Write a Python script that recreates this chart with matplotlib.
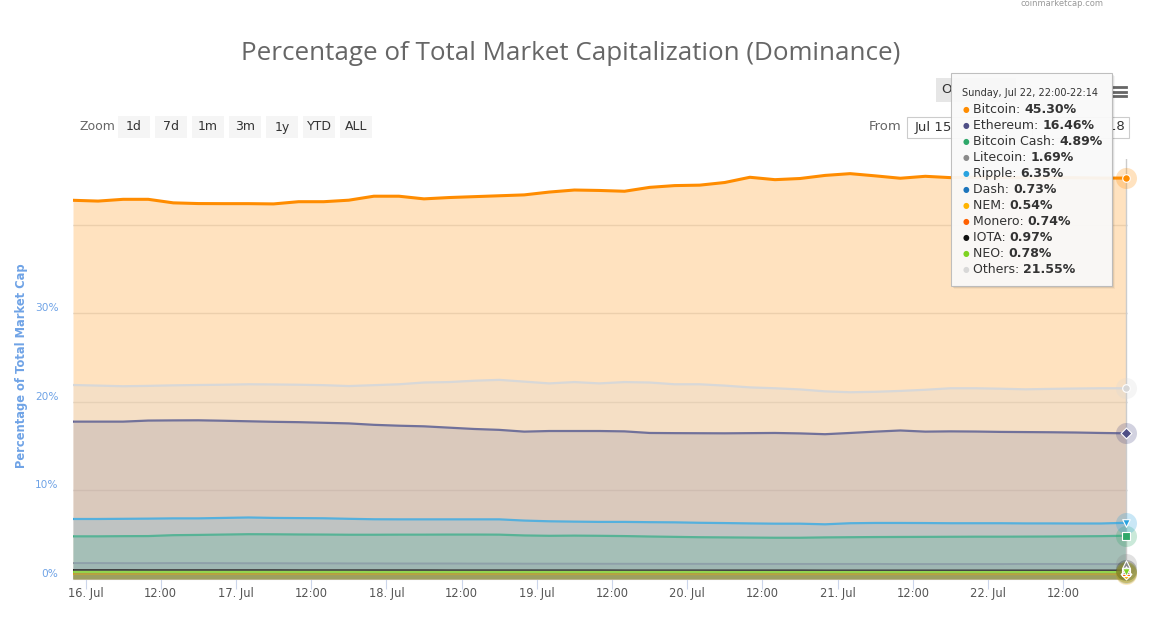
import matplotlib
matplotlib.use("Agg")
import matplotlib.pyplot as plt
from matplotlib.patches import Rectangle
from matplotlib.lines import Line2D
from matplotlib.transforms import ScaledTranslation, Bbox
import pandas as pd

# ---------------------------------------------------------------
# data: dominance (%) sampled every 4 hours, Jul 15 22:00 -> Jul 22 22:00
# ---------------------------------------------------------------
times = pd.date_range("2018-07-15 22:00", "2018-07-22 22:00", freq="4h")

bitcoin = [42.79, 42.70, 42.90, 42.90, 42.50, 42.42, 42.41, 42.41, 42.38, 42.63,
           42.63, 42.80, 43.25, 43.25, 42.95, 43.10, 43.20, 43.30, 43.40, 43.72,
           43.95, 43.90, 43.81, 44.25, 44.45, 44.50, 44.80, 45.39, 45.12, 45.25,
           45.60, 45.80, 45.55, 45.28, 45.50, 45.35, 45.40, 45.38, 45.32, 45.36,
           45.34, 45.30, 45.30]
ethereum = [17.78, 17.78, 17.78, 17.90, 17.92, 17.93, 17.88, 17.82, 17.76, 17.72,
            17.65, 17.58, 17.42, 17.32, 17.25, 17.10, 16.95, 16.85, 16.65, 16.72,
            16.72, 16.72, 16.68, 16.50, 16.48, 16.47, 16.46, 16.48, 16.50, 16.45,
            16.36, 16.50, 16.65, 16.78, 16.65, 16.68, 16.66, 16.62, 16.60, 16.58,
            16.55, 16.50, 16.46]
bitcoin_cash = [4.82, 4.82, 4.84, 4.85, 4.95, 4.98, 5.02, 5.06, 5.05, 5.03,
                5.02, 5.00, 5.00, 5.01, 5.01, 5.02, 5.02, 5.01, 4.92, 4.88,
                4.90, 4.88, 4.85, 4.80, 4.76, 4.72, 4.70, 4.68, 4.66, 4.66,
                4.70, 4.72, 4.74, 4.75, 4.76, 4.77, 4.78, 4.78, 4.79, 4.80,
                4.82, 4.84, 4.89]
litecoin = [1.80, 1.80, 1.79, 1.79, 1.80, 1.80, 1.79, 1.78, 1.78, 1.77,
            1.77, 1.76, 1.76, 1.75, 1.75, 1.75, 1.74, 1.74, 1.73, 1.73,
            1.73, 1.72, 1.72, 1.72, 1.71, 1.71, 1.71, 1.70, 1.70, 1.70,
            1.70, 1.70, 1.70, 1.69, 1.69, 1.69, 1.69, 1.69, 1.70, 1.70,
            1.69, 1.69, 1.69]
ripple = [6.78, 6.78, 6.80, 6.82, 6.85, 6.85, 6.90, 6.95, 6.90, 6.88,
          6.86, 6.80, 6.75, 6.74, 6.74, 6.74, 6.74, 6.74, 6.60, 6.52,
          6.48, 6.45, 6.45, 6.42, 6.40, 6.35, 6.32, 6.28, 6.25, 6.25,
          6.18, 6.30, 6.33, 6.33, 6.32, 6.30, 6.30, 6.30, 6.28, 6.28,
          6.27, 6.27, 6.35]
dash = [0.75, 0.75, 0.75, 0.75, 0.75, 0.75, 0.75, 0.75, 0.74, 0.74,
        0.74, 0.74, 0.74, 0.74, 0.74, 0.74, 0.74, 0.74, 0.74, 0.74,
        0.74, 0.74, 0.74, 0.73, 0.73, 0.73, 0.73, 0.73, 0.73, 0.73,
        0.73, 0.73, 0.73, 0.73, 0.73, 0.73, 0.73, 0.73, 0.73, 0.73,
        0.73, 0.73, 0.73]
nem = [0.56, 0.56, 0.56, 0.56, 0.56, 0.56, 0.56, 0.56, 0.56, 0.55,
       0.55, 0.55, 0.55, 0.55, 0.55, 0.55, 0.55, 0.55, 0.55, 0.55,
       0.55, 0.55, 0.55, 0.55, 0.55, 0.54, 0.54, 0.54, 0.54, 0.54,
       0.54, 0.54, 0.54, 0.54, 0.54, 0.54, 0.54, 0.54, 0.54, 0.54,
       0.54, 0.54, 0.54]
monero = [0.76, 0.76, 0.76, 0.76, 0.76, 0.76, 0.76, 0.76, 0.76, 0.76,
          0.76, 0.75, 0.75, 0.75, 0.75, 0.75, 0.75, 0.75, 0.75, 0.75,
          0.75, 0.75, 0.75, 0.75, 0.75, 0.74, 0.74, 0.74, 0.74, 0.74,
          0.74, 0.74, 0.74, 0.74, 0.74, 0.74, 0.74, 0.74, 0.74, 0.74,
          0.74, 0.74, 0.74]
iota = [1.02, 1.02, 1.02, 1.01, 1.01, 1.01, 1.01, 1.01, 1.01, 1.00,
        1.00, 1.00, 1.00, 1.00, 1.00, 0.99, 0.99, 0.99, 0.99, 0.99,
        0.99, 0.99, 0.98, 0.98, 0.98, 0.98, 0.98, 0.98, 0.98, 0.98,
        0.97, 0.97, 0.97, 0.97, 0.97, 0.97, 0.97, 0.97, 0.97, 0.97,
        0.97, 0.97, 0.97]
neo = [0.80, 0.80, 0.80, 0.80, 0.80, 0.80, 0.80, 0.80, 0.80, 0.80,
       0.80, 0.80, 0.79, 0.79, 0.79, 0.79, 0.79, 0.79, 0.79, 0.79,
       0.79, 0.79, 0.79, 0.79, 0.79, 0.79, 0.78, 0.78, 0.78, 0.78,
       0.78, 0.78, 0.78, 0.78, 0.78, 0.78, 0.78, 0.78, 0.78, 0.78,
       0.78, 0.78, 0.78]
others = [21.92, 21.85, 21.78, 21.82, 21.88, 21.92, 21.95, 22.00, 21.98, 21.95,
          21.90, 21.80, 21.90, 22.00, 22.20, 22.25, 22.40, 22.50, 22.30, 22.10,
          22.25, 22.10, 22.25, 22.20, 22.00, 22.00, 21.85, 21.65, 21.55, 21.42,
          21.20, 21.10, 21.15, 21.25, 21.38, 21.55, 21.55, 21.50, 21.43, 21.48,
          21.52, 21.55, 21.55]

names = ["Bitcoin", "Ethereum", "Bitcoin Cash", "Litecoin", "Ripple", "Dash",
         "NEM", "Monero", "IOTA", "NEO", "Others"]
values = [bitcoin, ethereum, bitcoin_cash, litecoin, ripple, dash,
          nem, monero, iota, neo, others]
tooltip_values = ["45.30%", "16.46%", "4.89%", "1.69%", "6.35%", "0.73%",
                  "0.54%", "0.74%", "0.97%", "0.78%", "21.55%"]

colors = ["#ff8c00", "#4f4f86", "#2ea86a", "#8a8a8a", "#2aa3df", "#1c75bc",
          "#ffb400", "#ff6000", "#111111", "#7ed321", "#d8d8d8"]
fill_alpha = [0.25, 0.2, 0.25, 0.25, 0.2, 0.25, 0.3, 0.3, 0.25, 0.3, 0.25]
line_w = [2.2, 1.6, 1.6, 1.4, 1.6, 1.4, 1.4, 1.4, 1.4, 1.6, 1.6]
symbols = ["o", "D", "s", "^", "v", "o", "D", "s", "^", "v", "o"]

zoom_buttons = ["1d", "7d", "1m", "3m", "1y", "YTD", "ALL"]
tick_times = pd.date_range("2018-07-16 00:00", "2018-07-22 12:00", freq="12h")
tick_labels = [f"{t.day}. Jul" if t.hour == 0 else "12:00" for t in tick_times]

# ---------------------------------------------------------------
# figure
# ---------------------------------------------------------------
W, H = 1166, 617
plt.rcParams["font.family"] = ["DejaVu Sans"]
fig = plt.figure(figsize=(W / 100, H / 100), dpi=100)


def px(x, y):
    return x / W, 1 - y / H


ax = fig.add_axes([73 / W, 1 - 579 / H, (1128 - 73) / W, (579 - 158.6) / H])
ax.set_xlim(times[0], times[-1] + pd.Timedelta(minutes=20))
ax.set_ylim(0, 47.5)

for i, (name, vals) in enumerate(zip(names, values)):
    ax.fill_between(times, vals, 0, color=colors[i], alpha=fill_alpha[i],
                    linewidth=0, zorder=2 + i * 0.1)
    ax.plot(times, vals, color=colors[i], lw=line_w[i], zorder=2.05 + i * 0.1,
            solid_joinstyle="round")

# end markers with halo
for i, vals in enumerate(values):
    ax.scatter([times[-1]], [vals[-1]], s=230, color=colors[i], alpha=0.25,
               linewidths=0, zorder=5, clip_on=False)
    ax.scatter([times[-1]], [vals[-1]], s=30, marker=symbols[i], color=colors[i],
               edgecolors="white", linewidths=0.8, zorder=6, clip_on=False)

ax.axvline(times[-1], color="#cccccc", lw=1, zorder=4)

# axes styling
ax.set_yticks([0, 10, 20, 30, 40])
ax.set_yticklabels(["0%", "10%", "20%", "30%", ""])
ax.yaxis.grid(True, color="#e6e6e6", lw=1, zorder=0)
ax.set_axisbelow(True)
ax.tick_params(axis="y", length=0, pad=10.5, labelsize=7.6, labelcolor="#6fa3e6")
for lab in ax.get_yticklabels():
    lab.set_transform(lab.get_transform() + ScaledTranslation(0, 0.06, fig.dpi_scale_trans))

ax.set_xticks(tick_times)
ax.set_xticklabels(tick_labels)
ax.tick_params(axis="x", length=7, color="#ccd6eb", labelsize=8.3,
               labelcolor="#555555", pad=-1.5)
for s in ["top", "right", "left"]:
    ax.spines[s].set_visible(False)
ax.spines["bottom"].set_color("#ccd6eb")
fig.text(*px(22, 366), "Percentage of Total Market Cap", rotation=90,
         ha="center", va="center", color="#6fa3e6", fontsize=8.3, fontweight="bold")

# title and credit
fig.text(*px(571, 53), "Percentage of Total Market Capitalization (Dominance)",
         ha="center", va="center", fontsize=18.7, color="#666666", family="Open Sans")
fig.text(*px(1062, 4), "coinmarketcap.com", ha="center", va="center",
         fontsize=6, color="#999999")

# zoom buttons
fig.text(*px(97, 127), "Zoom", ha="center", va="center", fontsize=9, color="#666666")
bx = 118
for lab in zoom_buttons:
    fig.add_artist(Rectangle(px(bx, 138), 32 / W, 22 / H, transform=fig.transFigure,
                             fc="#f5f5f5", ec="none"))
    fig.text(*px(bx + 16, 127), lab, ha="center", va="center", fontsize=9, color="#333333")
    bx += 37

# tooltip geometry (pixels); things behind it are clipped away
tx0, ty0, tx1, ty1 = 951, 73, 1112, 286
left_clip = Bbox.from_extents(0, 0, tx0, H)
right_clip = Bbox.from_extents(tx1 + 1, 0, W, H)

# overlapping / stacked buttons, menu icon
fig.add_artist(Rectangle(px(936, 102), 80 / W, 24 / H, transform=fig.transFigure,
                         fc="#e6e6e6", ec="none"))
t = fig.text(*px(941, 90), "Overlapping", ha="left", va="center", fontsize=9.5,
             color="#333333")
t.set_clip_box(left_clip)
t.set_clip_on(True)
for yy in (87, 91.5, 96):
    fig.add_artist(Line2D([1113 / W, 1126 / W], [1 - yy / H, 1 - yy / H],
                          transform=fig.transFigure, color="#666666", lw=2))

# date range inputs
fig.text(*px(885, 127), "From", ha="center", va="center", fontsize=9.5, color="#666666")
fig.add_artist(Rectangle(px(907, 138), 100 / W, 21 / H, transform=fig.transFigure,
                         fc="white", ec="#cccccc", lw=0.8))
t = fig.text(*px(915, 127), "Jul 15, 2018", ha="left", va="center", fontsize=9.5,
             color="#333333")
t.set_clip_box(left_clip)
t.set_clip_on(True)
fig.add_artist(Rectangle(px(1032, 138), 97 / W, 21 / H, transform=fig.transFigure,
                         fc="white", ec="#cccccc", lw=0.8))
t = fig.text(*px(1125, 127), "2018", ha="right", va="center", fontsize=9.5,
             color="#333333")
t.set_clip_box(right_clip)
t.set_clip_on(True)

# tooltip box with soft shadow
for k, a in enumerate([0.10, 0.07, 0.04]):
    fig.add_artist(Rectangle(px(tx0 + 1 + k, ty1 + 1 + k), (tx1 - tx0) / W, (ty1 - ty0) / H,
                             transform=fig.transFigure, fc="black", alpha=a, ec="none",
                             zorder=9))
fig.add_artist(Rectangle(px(tx0, ty1), (tx1 - tx0) / W, (ty1 - ty0) / H,
                         transform=fig.transFigure, fc="#fdfdfd", alpha=0.93,
                         ec="#bbbbbb", lw=0.8, zorder=10))
fig.text(*px(962, 93), "Sunday, Jul 22, 22:00-22:14", ha="left", va="center",
         fontsize=7, color="#333333", zorder=11)
renderer = fig.canvas.get_renderer()
for i, name in enumerate(names):
    yy = 109.5 + 16 * i
    fig.text(*px(966, yy), "\u25cf", ha="center", va="center", fontsize=5.5,
             color=colors[i], zorder=11)
    t = fig.text(*px(973, yy), f"{name}: ", ha="left", va="center", fontsize=9,
                 color="#333333", zorder=11)
    x1 = t.get_window_extent(renderer=renderer).x1
    fig.text(x1 / W, 1 - yy / H, tooltip_values[i], ha="left", va="center",
             fontsize=9, fontweight="bold", color="#333333", zorder=11)

fig.savefig("out.png", dpi=100)
